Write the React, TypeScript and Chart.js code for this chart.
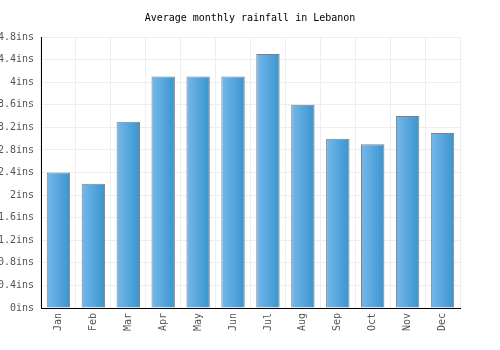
import React, { useEffect, useRef } from "react";
import { Chart, registerables } from "chart.js";

Chart.register(...registerables);

const months = ["Jan", "Feb", "Mar", "Apr", "May", "Jun", "Jul", "Aug", "Sep", "Oct", "Nov", "Dec"];
const rainfall = [2.4, 2.2, 3.3, 4.1, 4.1, 4.1, 4.5, 3.6, 3.0, 2.9, 3.4, 3.1];
const titleText = "Average monthly rainfall in Lebanon";
const unit = "ins";

const FONT = "'DejaVu Sans Mono', monospace";
const BAR_PCT = 0.67;

export default function App() {
  const ref = useRef<HTMLCanvasElement>(null);
  useEffect(() => {
    const canvas = ref.current!;
    const chart = new Chart(canvas, {
      type: "bar",
      data: {
        labels: months,
        datasets: [
          {
            data: rainfall,
            backgroundColor: (ctx: any) => {
              const xs = ctx.chart.scales && ctx.chart.scales.x;
              const c = ctx.chart.ctx;
              if (!xs || !xs.width || ctx.dataIndex === undefined) return "#52a6dd";
              const center = xs.getPixelForValue(ctx.dataIndex);
              const w = (xs.width / months.length) * BAR_PCT;
              const g = c.createLinearGradient(center - w / 2, 0, center + w / 2, 0);
              g.addColorStop(0, "#76b8eb");
              g.addColorStop(1, "#3895ce");
              return g;
            },
            borderColor: "#808080",
            borderWidth: 1,
            barPercentage: BAR_PCT,
            categoryPercentage: 1,
          },
        ],
      },
      options: {
        responsive: false,
        animation: false,
        layout: { padding: { left: 0, right: 0, top: 0, bottom: 0 } },
        plugins: {
          legend: { display: false },
          tooltip: { enabled: false },
          title: {
            display: true,
            text: titleText,
            color: "#000",
            font: { family: FONT, size: 10, weight: "normal" },
            padding: { top: 12, bottom: 13 },
          },
        },
        scales: {
          x: {
            grid: { color: "#eeeeee", drawTicks: false, offset: true },
            border: { color: "#000", width: 1 },
            ticks: {
              color: "#555",
              font: { family: FONT, size: 10 },
              maxRotation: 90,
              minRotation: 90,
              padding: 5,
            },
            afterFit: (s: any) => {
              s.height = 42;
            },
          },
          y: {
            min: 0,
            max: 4.8,
            grid: { color: "#eeeeee", drawTicks: false },
            border: { color: "#000", width: 1 },
            ticks: {
              stepSize: 0.4,
              color: "#555",
              font: { family: FONT, size: 10 },
              padding: 7,
              callback: (v: any) => parseFloat(Number(v).toFixed(1)) + unit,
            },
            afterFit: (s: any) => {
              s.width = 41;
            },
          },
          yRight: {
            position: "right",
            min: 0,
            max: 4.8,
            grid: { display: false, drawTicks: false },
            border: { display: false },
            ticks: { display: false },
            afterFit: (s: any) => {
              s.width = 40;
            },
          },
        },
      },
    });
    return () => chart.destroy();
  }, []);
  return (
    <div style={{ position: "absolute", left: 0, top: 0, width: 500, height: 350, background: "#fff" }}>
      <canvas ref={ref} width={500} height={350} style={{ display: "block" }} />
    </div>
  );
}
